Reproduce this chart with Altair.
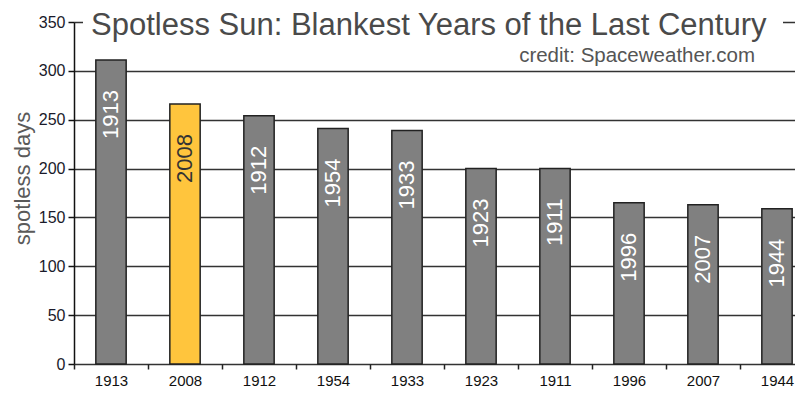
import altair as alt
import pandas as pd

years = ["1913", "2008", "1912", "1954", "1933", "1923", "1911", "1996", "2007", "1944"]
days = [311, 266, 254, 241, 239, 200, 200, 165, 163, 159]
highlight_year = "2008"
y_ticks = [0, 50, 100, 150, 200, 250, 300, 350]

title_text = "Spotless Sun: Blankest Years of the Last Century"
credit_text = "credit: Spaceweather.com"
y_title = "spotless days"

df = pd.DataFrame({"year": years, "days": days})

FONT = "Liberation Sans"

x_scale = alt.Scale(range=[0, 740], paddingInner=0.59, paddingOuter=0.295)

x_enc = alt.X(
    "year:N",
    sort=years,
    scale=x_scale,
    axis=alt.Axis(
        title=None,
        tickOffset=-37,
        labelOffset=37,
        labelAngle=0,
        labelFontSize=15,
        labelColor="#111111",
        labelPadding=4,
        tickSize=5,
        tickColor="#222222",
        tickWidth=1.5,
        domain=False,
        grid=False,
        labelFont=FONT,
    ),
)

y_enc = alt.Y(
    "days:Q",
    scale=alt.Scale(domain=[0, 350], nice=False),
    axis=alt.Axis(
        values=y_ticks,
        grid=True,
        gridColor="#333333",
        gridWidth=1.5,
        domainColor="#111111",
        domainWidth=1.5,
        tickColor="#111111",
        tickWidth=1.5,
        tickSize=6,
        labelFontSize=16,
        labelColor="#1a1a2a",
        labelPadding=3,
        labelFont=FONT,
        title=y_title,
        titleFont=FONT,
        titleFontSize=22,
        titleFontWeight="normal",
        titleColor="#5a5a5a",
        titleAngle=270,
        titleX=-52,
        titleY=156,
        titleAlign="center",
        titleBaseline="middle",
    ),
)

bars = alt.Chart(df).mark_bar(stroke="#222222", strokeWidth=1.5).encode(
    x=x_enc,
    y=y_enc,
    color=alt.condition(
        alt.datum.year == highlight_year, alt.value("#FFC53D"), alt.value("#808080")
    ),
)

labels = alt.Chart(df).mark_text(
    angle=270, align="right", baseline="middle", fontSize=22, fontWeight="normal", font=FONT
).encode(
    x=alt.X("year:N", sort=years, scale=x_scale),
    y=alt.Y("days:Q"),
    yOffset=alt.value(30),
    text="year:N",
    color=alt.condition(
        alt.datum.year == highlight_year, alt.value("#333333"), alt.value("#ffffff")
    ),
)

title_bg = alt.Chart(pd.DataFrame({"t": [title_text]})).mark_rect(color="white").encode(
    x=alt.value(9), x2=alt.value(709), y=alt.value(-14), y2=alt.value(15)
)

title = alt.Chart(pd.DataFrame({"t": [title_text]})).mark_text(
    align="left", baseline="alphabetic", fontSize=31, color="#4a4a4a", font=FONT
).encode(x=alt.value(17), y=alt.value(13), text="t:N")

credit = alt.Chart(pd.DataFrame({"t": [credit_text]})).mark_text(
    align="right", baseline="alphabetic", fontSize=20.5, color="#555555", font=FONT
).encode(x=alt.value(681), y=alt.value(40), text="t:N")

chart = (
    alt.layer(bars, labels, title_bg, title, credit)
    .properties(
        width=721,
        height=342,
        autosize=alt.AutoSizeParams(type="none"),
        padding={"left": 66, "top": 14, "right": 0, "bottom": 24},
    )
    .configure_view(stroke=None)
    .configure(font=FONT)
)

chart.save("out.html", embed_options={"renderer": "svg", "actions": False})
